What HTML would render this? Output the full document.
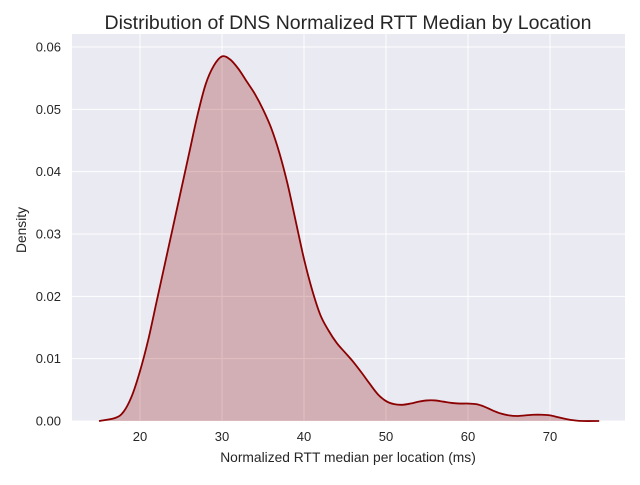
<!DOCTYPE html>
<html><head><meta charset="utf-8"><style>
body{margin:0;background:#fff;font-family:"Liberation Sans","DejaVu Sans",sans-serif}
</style></head><body>
<svg id="chart" width="640" height="480" xmlns="http://www.w3.org/2000/svg">
<rect x="0" y="0" width="640" height="480" fill="#fff"/>
<rect x="72" y="34" width="553" height="387" fill="#eaeaf2"/>
<g id="grid"></g><g id="marks"></g><g id="ticks"></g>
<text x="348" y="29" text-anchor="middle" font-size="19.5" fill="#262626">Distribution of DNS Normalized RTT Median by Location</text>
<text x="348" y="462" text-anchor="middle" font-size="13.8" fill="#262626">Normalized RTT median per location (ms)</text>
<text x="26" y="230" text-anchor="middle" font-size="13.8" fill="#262626" transform="rotate(-90 26 230)">Density</text>
</svg>
<script>
const xVals=[15,17,18,19,20,21,22,23,24,25,26,27,28,29,30,31,32,33,34,35,36,37,38,39,40,41,42,43,44,45,46,47,48,49,50,51,52,53,54,55,56,57,58,59,60,61,62,63,64,65,66,67,68,69,70,71,72,73,74,76];
const densityVals=[0,0.0005,0.0015,0.004,0.008,0.013,0.019,0.025,0.031,0.037,0.043,0.049,0.054,0.057,0.0585,0.058,0.0565,0.0545,0.0525,0.05,0.047,0.043,0.038,0.032,0.026,0.021,0.017,0.0145,0.0125,0.011,0.0095,0.0078,0.006,0.0043,0.0032,0.0027,0.0026,0.0028,0.0031,0.0033,0.0033,0.0031,0.0029,0.0028,0.0028,0.0027,0.0023,0.0017,0.0012,0.0009,0.0008,0.0009,0.001,0.001,0.0009,0.0006,0.0003,0.0001,0,0];
const xTicks=[20,30,40,50,60,70];
const yTicks=[0,0.01,0.02,0.03,0.04,0.05,0.06];
const yTickLabels=["0.00","0.01","0.02","0.03","0.04","0.05","0.06"];
const NS="http://www.w3.org/2000/svg";
const sx=v=>140+(v-20)*8.2;
const sy=v=>421-v*6233;
const grid=document.getElementById('grid'),ticks=document.getElementById('ticks'),marks=document.getElementById('marks');
function mk(tag,at,parent){const e=document.createElementNS(NS,tag);for(const k in at)e.setAttribute(k,at[k]);parent.appendChild(e);return e;}
xTicks.forEach(t=>{
 const l=mk('line',{x1:sx(t),x2:sx(t),y1:34,y2:421,stroke:'#fff','stroke-width':1},grid);
 
 
 const tx=mk('text',{x:sx(t),y:441,'text-anchor':'middle','font-size':13,fill:'#262626'},ticks);
 tx.textContent=t;
 
 
});
yTicks.forEach((t,i)=>{
 const l=mk('line',{x1:72,x2:625,y1:sy(t),y2:sy(t),stroke:'#fff','stroke-width':1},grid);
 
 
 const tx=mk('text',{x:61,y:sy(t)+4.5,'text-anchor':'end','font-size':13,fill:'#262626'},ticks);
 tx.textContent=yTickLabels[i];
 
 
});
const pts=xVals.map((x,i)=>[sx(x),sy(densityVals[i])]);
let d='M'+pts[0][0]+','+pts[0][1];
for(let i=0;i<pts.length-1;i++){
 const p0=pts[Math.max(0,i-1)],p1=pts[i],p2=pts[i+1],p3=pts[Math.min(pts.length-1,i+2)];
 const c1=[p1[0]+(p2[0]-p0[0])/6,p1[1]+(p2[1]-p0[1])/6];
 const c2=[p2[0]-(p3[0]-p1[0])/6,p2[1]-(p3[1]-p1[1])/6];
 d+=` C${c1[0]},${c1[1]} ${c2[0]},${c2[1]} ${p2[0]},${p2[1]}`;
}
const area=mk('path',{d:d+` L${pts[pts.length-1][0]},${sy(0)} L${pts[0][0]},${sy(0)} Z`,fill:'#8b0000','fill-opacity':0.25,stroke:'none'},marks);


const line=mk('path',{d:d,fill:'none',stroke:'#8b0000','stroke-width':1.8},marks);


</script>
</body></html>
